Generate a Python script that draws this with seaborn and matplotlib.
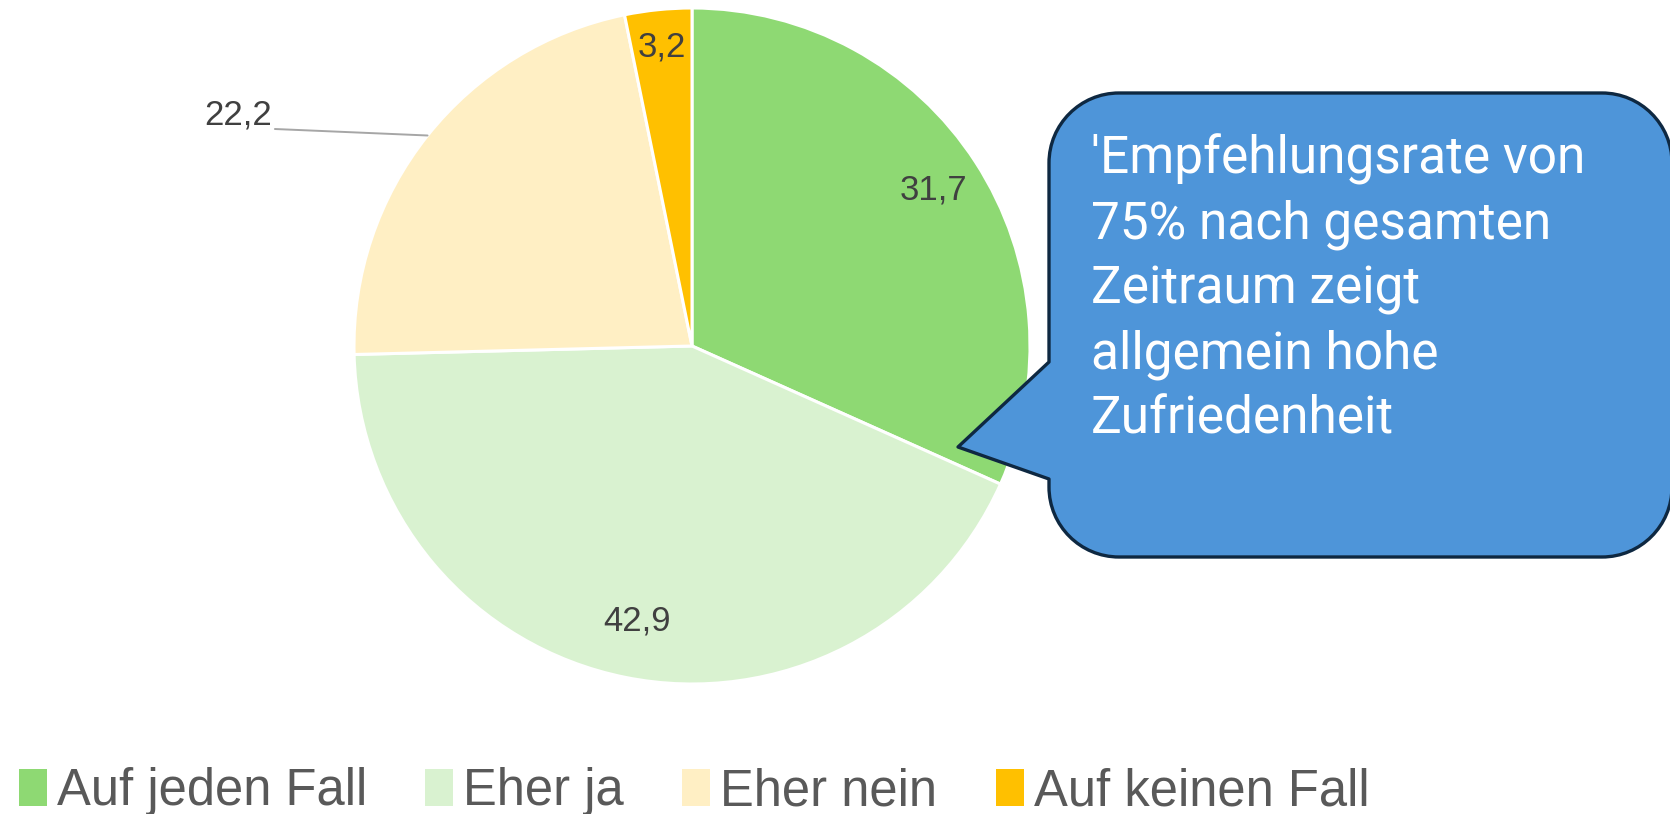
import matplotlib
matplotlib.use("Agg")
import matplotlib.pyplot as plt
import seaborn as sns
import numpy as np
from matplotlib.path import Path
from matplotlib.patches import PathPatch

# data
categories = ["Auf jeden Fall", "Eher ja", "Eher nein", "Auf keinen Fall"]
values = [31.7, 42.9, 22.2, 3.2]
value_labels = ["31,7", "42,9", "22,2", "3,2"]
colors = ["#8ED973", "#D9F2D0", "#FFEFC4", "#FFC000"]
callout_text = "'Empfehlungsrate von\n75% nach gesamten\nZeitraum zeigt\nallgemein hohe\nZufriedenheit"

sns.set_theme(style="white")
plt.rcParams["font.family"] = ["Liberation Sans", "DejaVu Sans"]

W, H = 1670, 814
fig = plt.figure(figsize=(W / 100, H / 100), dpi=100)
fig.patch.set_facecolor("white")

# pie axes: center (692, 346) px from top, radius 338 px
cx, cy, rad = 692, 346, 338
ax = fig.add_axes([(cx - rad) / W, (H - cy - rad) / H, 2 * rad / W, 2 * rad / H])
wedges, _ = ax.pie(values, colors=colors, startangle=90, counterclock=False,
                   wedgeprops=dict(edgecolor="white", linewidth=2.2))
ax.set_xlim(-1, 1)
ax.set_ylim(-1, 1)
ax.set_aspect("auto")
ax.axis("off")

# value labels inside / outside the wedges
label_r = [0.85, 0.83, None, 0.89]
for w, lab, r in zip(wedges, value_labels, label_r):
    mid = np.deg2rad((w.theta1 + w.theta2) / 2)
    if r is not None:
        ax.text(r * np.cos(mid), r * np.sin(mid), lab, ha="center", va="center",
                fontsize=25, color="#404040")
    else:
        ex, ey = np.cos(mid), np.sin(mid)
        lx, ly = -1.234, 0.642
        ax.plot([ex, lx], [ey, ly], color="#A6A6A6", lw=1.4, clip_on=False)
        ax.text(lx - 0.01, ly + 0.04, lab, ha="right", va="center",
                fontsize=25, color="#404040", clip_on=False)

# callout overlay in pixel coordinates
ov = fig.add_axes([0, 0, 1, 1])
ov.set_xlim(0, W)
ov.set_ylim(H, 0)
ov.axis("off")

L, T, R, B, r = 1049, 93, 1672, 557, 70
k = 0.5523 * r
p1y, p2y, tip = 362, 479, (958, 447)
verts = [
    (L + r, T), (R - r, T),
    (R - r + k, T), (R, T + r - k), (R, T + r),
    (R, B - r),
    (R, B - r + k), (R - r + k, B), (R - r, B),
    (L + r, B),
    (L + r - k, B), (L, B - r + k), (L, B - r),
    (L, p2y), tip, (L, p1y),
    (L, T + r),
    (L, T + r - k), (L + r - k, T), (L + r, T),
    (L + r, T),
]
codes = [Path.MOVETO, Path.LINETO,
         Path.CURVE4, Path.CURVE4, Path.CURVE4,
         Path.LINETO,
         Path.CURVE4, Path.CURVE4, Path.CURVE4,
         Path.LINETO,
         Path.CURVE4, Path.CURVE4, Path.CURVE4,
         Path.LINETO, Path.LINETO, Path.LINETO,
         Path.LINETO,
         Path.CURVE4, Path.CURVE4, Path.CURVE4,
         Path.CLOSEPOLY]
ov.add_patch(PathPatch(Path(verts, codes), facecolor="#4E95D9",
                       edgecolor="#0E2841", linewidth=2.4, joinstyle="round"))
ov.text(1091, 134, callout_text, ha="left", va="top", color="white",
        fontsize=37, linespacing=1.37, family=["Roboto", "DejaVu Sans"])

# legend along the bottom
leg = fig.legend(wedges, categories, loc="lower left", bbox_to_anchor=(-0.007, -0.04),
                 ncol=4, frameon=False, fontsize=36.5, handlelength=0.55,
                 handleheight=0.75, handletextpad=0.2, columnspacing=1.15,
                 borderaxespad=0.2)
for t in leg.get_texts():
    t.set_color("#595959")
for h in leg.legend_handles:
    h.set_edgecolor("none")

fig.savefig("out.png", dpi=100)
